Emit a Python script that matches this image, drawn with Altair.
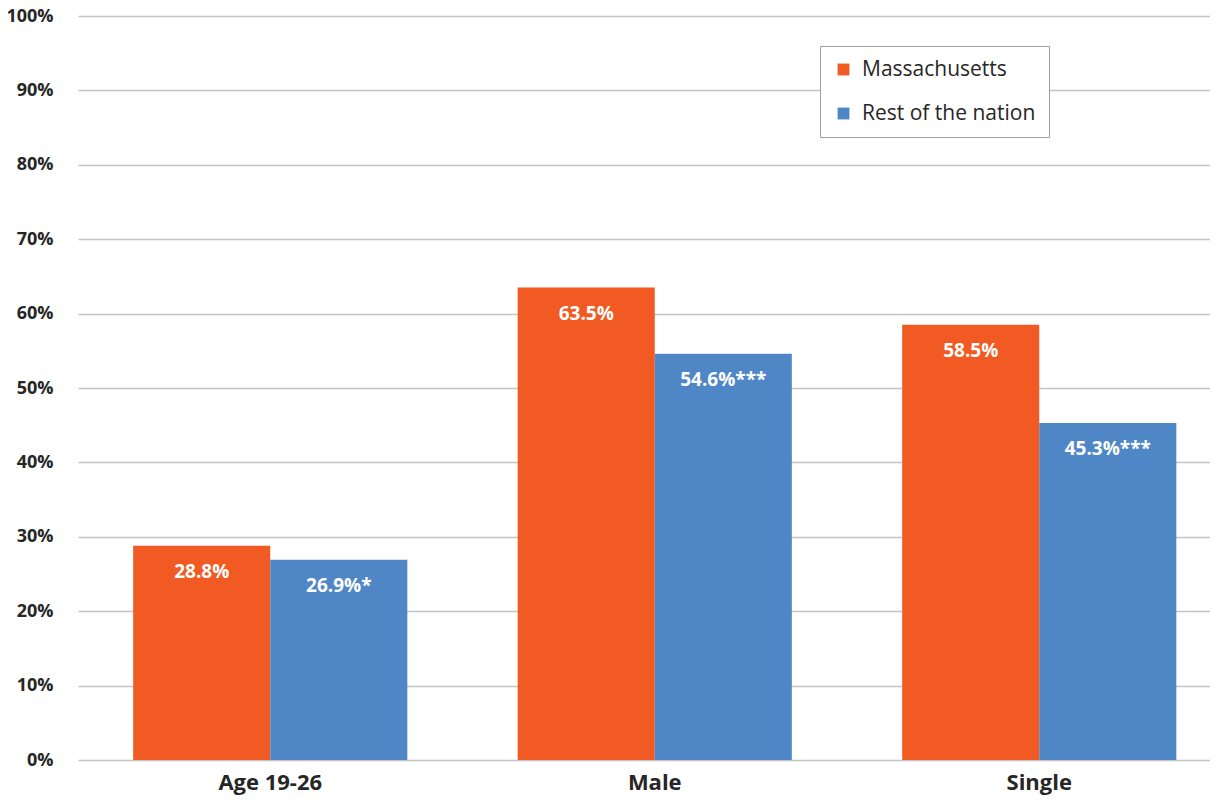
import altair as alt
import pandas as pd

categories = ["Age 19-26", "Male", "Single"]
series = ["Massachusetts", "Rest of the nation"]
ma_values = [0.288, 0.635, 0.585]
rn_values = [0.269, 0.546, 0.453]
ma_labels = ["28.8%", "63.5%", "58.5%"]
rn_labels = ["26.9%*", "54.6%***", "45.3%***"]
colors = ["#F15A22", "#4F86C6"]
y_ticks = [i / 10 for i in range(11)]

rows = []
for c, v, l in zip(categories, ma_values, ma_labels):
    rows.append({"cat": c, "series": series[0], "value": v, "label": l})
for c, v, l in zip(categories, rn_values, rn_labels):
    rows.append({"cat": c, "series": series[1], "value": v, "label": l})
df = pd.DataFrame(rows)

FONT = "Open Sans"

base = alt.Chart(df).encode(
    x=alt.X("cat:N", sort=categories, title=None,
            scale=alt.Scale(range=[0, 1153.5], paddingInner=0.287, paddingOuter=0.1435),
            axis=alt.Axis(labelAngle=0, labelFont=FONT, labelFontWeight="bold",
                          labelFontSize=22, labelColor="#262626", labelPadding=12,
                          domain=False, ticks=False, grid=False)),
    xOffset=alt.XOffset("series:N", sort=series,
                        scale=alt.Scale(paddingInner=0, paddingOuter=0)),
)

bars = base.mark_bar().encode(
    y=alt.Y("value:Q", title=None,
            scale=alt.Scale(domain=[0, 1], nice=False),
            axis=alt.Axis(values=y_ticks, format=".0%", labelFont=FONT,
                          labelFontWeight="bold", labelFontSize=18,
                          labelColor="#262626", labelPadding=25,
                          domain=False, ticks=False, grid=True,
                          gridColor="#C4C4C4", gridWidth=1.6)),
    color=alt.Color("series:N", sort=series,
                    scale=alt.Scale(domain=series, range=colors),
                    legend=alt.Legend(title=None, orient="none", legendX=742, legendY=30,
                                      direction="vertical", symbolType="square",
                                      symbolSize=140, symbolStrokeWidth=0,
                                      labelFont=FONT, labelFontSize=21, labelLimit=400,
                                      labelColor="#262626", labelOffset=8,
                                      rowPadding=22, padding=13,
                                      strokeColor="#A0A0A0", fillColor="white",
                                      cornerRadius=0)),
)

text = base.mark_text(font=FONT, fontWeight="bold", fontSize=19, color="white",
                      baseline="middle", dy=26).encode(
    y=alt.Y("value:Q"),
    text="label:N",
)

chart = (bars + text).properties(
    width=1132, height=744,
    autosize=alt.AutoSizeParams(type="none"),
    padding={"left": 70, "right": 0, "top": 8, "bottom": 36},
).configure_view(stroke=None)

chart.save("out.html", embed_options={"renderer": "svg", "actions": False})
